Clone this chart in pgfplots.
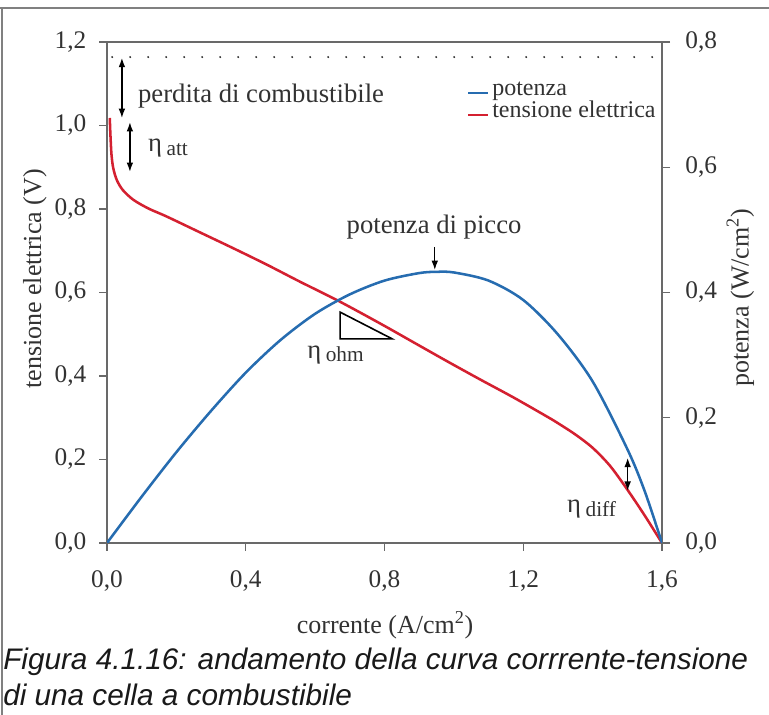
\documentclass[border=0pt]{standalone}
\usepackage{fontspec}
\setmainfont{Liberation Serif}
\newfontfamily\capfont{Liberation Sans}
\usepackage{pgfplots}
\usepackage{pgfplotstable}
\pgfplotsset{compat=1.18}
\usetikzlibrary{arrows.meta}

\definecolor{curveblue}{RGB}{38,108,176}
\definecolor{curvered}{RGB}{212,32,48}
\definecolor{axisgray}{RGB}{105,105,105}
\definecolor{txt}{RGB}{50,50,50}

% tensione elettrica (V) contro corrente (A/cm^2)
\pgfplotstableread{
i V
0.008 1.018
0.010 0.975
0.013 0.930
0.018 0.898
0.028 0.870
0.045 0.846
0.076 0.822
0.120 0.801
0.172 0.782
0.268 0.744
0.364 0.706
0.460 0.667
0.556 0.626
0.667 0.580
0.787 0.526
0.883 0.481
0.979 0.436
1.075 0.392
1.171 0.349
1.268 0.303
1.300 0.287
1.350 0.260
1.400 0.228
1.450 0.185
1.500 0.128
1.550 0.066
1.600 0.000
}\tensione

% potenza (W/cm^2) contro corrente (A/cm^2)
\pgfplotstableread{
i P
0.000 0.000
0.100 0.074
0.200 0.145
0.300 0.211
0.400 0.272
0.500 0.324
0.600 0.366
0.700 0.397
0.800 0.419
0.900 0.431
0.950 0.433
1.000 0.432
1.100 0.419
1.200 0.388
1.300 0.333
1.400 0.258
1.500 0.150
1.550 0.083
1.600 0.000
}\potenza

\begin{document}
\begin{tikzpicture}
\path[use as bounding box] (0,0) rectangle (576.75pt,536.25pt);

\begin{scope}[x=0.75pt,y=-0.75pt,yshift=536.25pt]
  \draw[gray, line width=1.1pt] (0,8) -- (769,8);
  \draw[gray, line width=1.1pt] (2,8) -- (2,715);
  \node[anchor=base west, inner sep=0pt, text=black!90,
        font=\capfont\itshape\fontsize{22.3}{26}\selectfont] at (3,670)
        {Figura 4.1.16: andamento della curva corrrente-tensione};
  \node[anchor=base west, inner sep=0pt, text=black!90,
        font=\capfont\itshape\fontsize{22.3}{26}\selectfont] at (3,706)
        {di una cella a combustibile};
\end{scope}

\pgfplotsset{
  fcell/.style={
    at={(80.25pt,129pt)}, anchor=south west,
    scale only axis, width=416.25pt, height=375.75pt,
    xmin=0, xmax=1.6,
    tick align=outside, major tick length=6pt,
    axis line style={axisgray, line width=1.1pt},
    tick style={axisgray, line width=1.1pt},
    tick label style={font=\fontsize{19}{19}\selectfont, text=txt},
    label style={font=\fontsize{19.5}{20}\selectfont, text=txt},
    /pgf/number format/.cd, use comma, fixed, fixed zerofill, precision=1,
    assume math mode=true,
  },
}

\begin{axis}[fcell,
  ymin=0, ymax=1.2,
  xtick={0,0.4,0.8,1.2,1.6},
  ytick={0,0.2,0.4,0.6,0.8,1.0,1.2},
  xtick pos=bottom, ytick pos=left,
  xticklabel style={yshift=-11pt},
  yticklabel style={xshift=-6pt},
  xlabel={corrente (A/cm\textsuperscript{2})},
  ylabel={tensione elettrica (V)},
  xlabel style={at={(axis description cs:0.501,-0.164)}, anchor=center},
  ylabel style={at={(axis description cs:-0.130,0.527)}, anchor=center},
]
\addplot[curvered, line width=1.9pt, smooth, tension=0.5] table[x=i, y=V] {\tensione};

% legenda
\draw[curveblue, line width=1.6pt] (axis cs:1.041,1.078) -- (axis cs:1.098,1.078);
\node[anchor=base west, inner sep=0pt, text=txt, font=\fontsize{18}{18}\selectfont]
  at (axis cs:1.110,1.071) {potenza};
\draw[curvered, line width=1.6pt] (axis cs:1.041,1.025) -- (axis cs:1.098,1.025);
\node[anchor=base west, inner sep=0pt, text=txt, font=\fontsize{18}{18}\selectfont]
  at (axis cs:1.110,1.018) {tensione elettrica};

% perdita di combustibile
\draw[black!85, line width=1.6pt, line cap=round, dash pattern=on 0pt off 13.5pt]
  (axis cs:0.015,1.164) -- (axis cs:1.6,1.164);
\draw[black, line width=1pt, {Latex[length=7pt,width=5pt]}-{Latex[length=7pt,width=5pt]}]
  (axis cs:0.043,1.162) -- (axis cs:0.043,1.018);
\node[anchor=base west, inner sep=0pt, text=txt, font=\fontsize{20}{20}\selectfont]
  at (axis cs:0.089,1.054) {perdita di combustibile};

% eta att
\draw[black, line width=1pt, {Latex[length=7pt,width=5pt]}-{Latex[length=7pt,width=5pt]}]
  (axis cs:0.066,1.008) -- (axis cs:0.066,0.889);
\node[anchor=base west, inner sep=0pt, text=txt, font=\fontsize{20}{20}\selectfont]
  at (axis cs:0.118,0.937) {η\,\raisebox{-0.3ex}{\fontsize{16}{16}\selectfont att}};

% potenza di picco
\node[anchor=base, inner sep=0pt, text=txt, font=\fontsize{20}{20}\selectfont]
  at (axis cs:0.943,0.742) {potenza di picco};
\draw[black, line width=1pt, -{Latex[length=7pt,width=5pt]}]
  (axis cs:0.945,0.709) -- (axis cs:0.945,0.654);

% eta ohm
\draw[black, line width=1.2pt, line join=miter]
  (axis cs:0.672,0.553) -- (axis cs:0.672,0.489) -- (axis cs:0.822,0.489) -- cycle;
\node[anchor=base west, inner sep=0pt, text=txt, font=\fontsize{20}{20}\selectfont]
  at (axis cs:0.577,0.443) {η\,\raisebox{-0.3ex}{\fontsize{16}{16}\selectfont ohm}};

% eta diff
\draw[black, line width=1pt, {Latex[length=7pt,width=5pt]}-{Latex[length=7pt,width=5pt]}]
  (axis cs:1.501,0.204) -- (axis cs:1.501,0.125);
\node[anchor=base west, inner sep=0pt, text=txt, font=\fontsize{20}{20}\selectfont]
  at (axis cs:1.326,0.072) {η\,\raisebox{-0.3ex}{\fontsize{16}{16}\selectfont diff}};
\end{axis}

\begin{axis}[fcell,
  ymin=0, ymax=0.8,
  axis x line=none, axis y line*=right,
  ytick={0,0.2,0.4,0.6,0.8},
  yticklabel style={xshift=8pt},
  ylabel={potenza (W/cm\textsuperscript{2})},
  ylabel style={at={(axis description cs:1.141,0.489)}, anchor=center, rotate=0},
]
\addplot[curveblue, line width=1.9pt, smooth, tension=0.5] table[x=i, y=P] {\potenza};
\end{axis}
\end{tikzpicture}
\end{document}
